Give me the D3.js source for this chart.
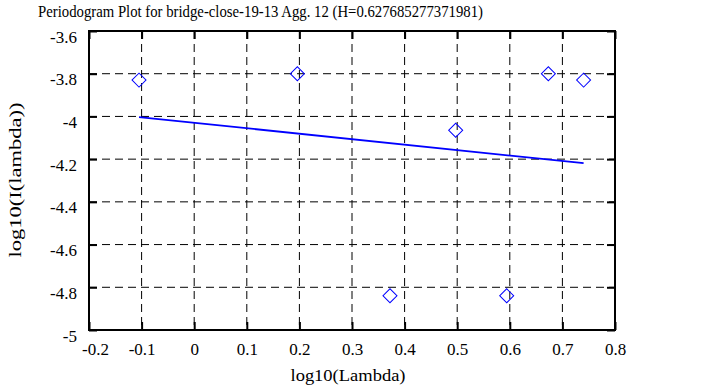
<!DOCTYPE html>
<html><head><meta charset="utf-8">
<script src="https://cdn.jsdelivr.net/npm/d3@7"></script>
<style>body{margin:0;background:#fff}svg{display:block}text{font-family:"Liberation Serif","Times New Roman",serif !important;fill:#000}</style>
</head><body><svg id="c" width="705" height="387"></svg>
<script>
const titleText = "Periodogram Plot for bridge-close-19-13 Agg. 12 (H=0.627685277371981)";
const xLabel = "log10(Lambda)";
const yLabel = "log10(I(lambda))";
const xVals = [-0.1049, 0.1961, 0.3722, 0.4971, 0.5941, 0.6733, 0.7403];
const yVals = [-3.83, -3.80, -4.84, -4.065, -4.84, -3.80, -3.83];
const fitX = [-0.1049, 0.7403];
const fitY = [-4.003, -4.219];
const xTicks = [-0.2, -0.1, 0, 0.1, 0.2, 0.3, 0.4, 0.5, 0.6, 0.7, 0.8];
const yTicks = [-3.6, -3.8, -4, -4.2, -4.4, -4.6, -4.8, -5];

const svg = d3.select("#c");
const L = 89, R = 615, T = 31, B = 330;
const x = d3.scaleLinear().domain([-0.2, 0.8]).range([L, R]);
const y = d3.scaleLinear().domain([-5, -3.6]).range([B, T]);
const serif = '"Liberation Serif", "Times New Roman", serif';

// grid
const g = svg.append("g");
g.selectAll("line.gx").data(xTicks.slice(1, -1)).join("line")
  .attr("x1", d => x(d)).attr("x2", d => x(d)).attr("y1", T).attr("y2", B)
  .attr("stroke", "#000").attr("stroke-width", 1).attr("stroke-dasharray", "8,5");
g.selectAll("line.gy").data(yTicks.slice(1, -1)).join("line")
  .attr("y1", d => y(d)).attr("y2", d => y(d)).attr("x1", L).attr("x2", R)
  .attr("stroke", "#000").attr("stroke-width", 1).attr("stroke-dasharray", "8,5");

// axes with inward ticks
const fmt = d => String(+d.toFixed(1));
svg.append("g").attr("transform", `translate(0,${B})`)
  .call(d3.axisBottom(x).tickValues(xTicks).tickSize(-8).tickPadding(13).tickFormat(fmt))
  .attr("font-family", serif).attr("font-size", 17)
  .call(a => a.select(".domain").remove())
  .call(a => a.selectAll("line").attr("stroke-width", 2))
  .call(a => a.selectAll("text").style("font-family", serif).style("font-size", "17px"));
svg.append("g").attr("transform", `translate(0,${T})`)
  .call(d3.axisTop(x).tickValues(xTicks).tickSize(-8).tickFormat(""))
  .call(a => a.select(".domain").remove())
  .call(a => a.selectAll("line").attr("stroke-width", 2));
svg.append("g").attr("transform", `translate(${L},0)`)
  .call(d3.axisLeft(y).tickValues(yTicks).tickSize(-8).tickPadding(12).tickFormat(fmt))
  .attr("font-family", serif).attr("font-size", 17)
  .call(a => a.select(".domain").remove())
  .call(a => a.selectAll("line").attr("stroke-width", 2))
  .call(a => a.selectAll("text").style("font-family", serif).style("font-size", "17px").attr("dy", "0.65em"));
svg.append("g").attr("transform", `translate(${R},0)`)
  .call(d3.axisRight(y).tickValues(yTicks).tickSize(-8).tickFormat(""))
  .call(a => a.select(".domain").remove())
  .call(a => a.selectAll("line").attr("stroke-width", 2));
// nudge first x label to avoid overlap
svg.selectAll("text").filter(function(){return this.textContent === "-0.2";}).attr("dx", 6);

svg.append("rect").attr("x", L).attr("y", T).attr("width", R - L).attr("height", B - T)
  .attr("fill", "none").attr("stroke", "#000").attr("stroke-width", 2);

// fit line
svg.append("line").attr("x1", x(fitX[0])).attr("y1", y(fitY[0]))
  .attr("x2", x(fitX[1])).attr("y2", y(fitY[1]))
  .attr("stroke", "#0000ff").attr("stroke-width", 1.8);

// diamonds
const pts = xVals.map((v, i) => [v, yVals[i]]);
svg.selectAll("path.pt").data(pts).join("path")
  .attr("d", d3.symbol().type(d3.symbolSquare).size(98))
  .attr("transform", d => `translate(${x(d[0])},${y(d[1])}) rotate(45)`)
  .attr("fill", "none").attr("stroke", "#0000ff").attr("stroke-width", 1);

// titles
svg.append("text").attr("x", 38).attr("y", 17).attr("font-size", 17)
  .attr("textLength", 445).attr("lengthAdjust", "spacingAndGlyphs").text(titleText);
svg.append("text").attr("x", 348).attr("y", 381).attr("text-anchor", "middle").attr("font-size", 17)
  .attr("textLength", 115).attr("lengthAdjust", "spacingAndGlyphs").text(xLabel);
svg.append("text").attr("transform", "translate(21,180) rotate(-90)").attr("text-anchor", "middle").attr("font-size", 16)
  .attr("textLength", 155).attr("lengthAdjust", "spacingAndGlyphs").text(yLabel);
</script></body></html>
